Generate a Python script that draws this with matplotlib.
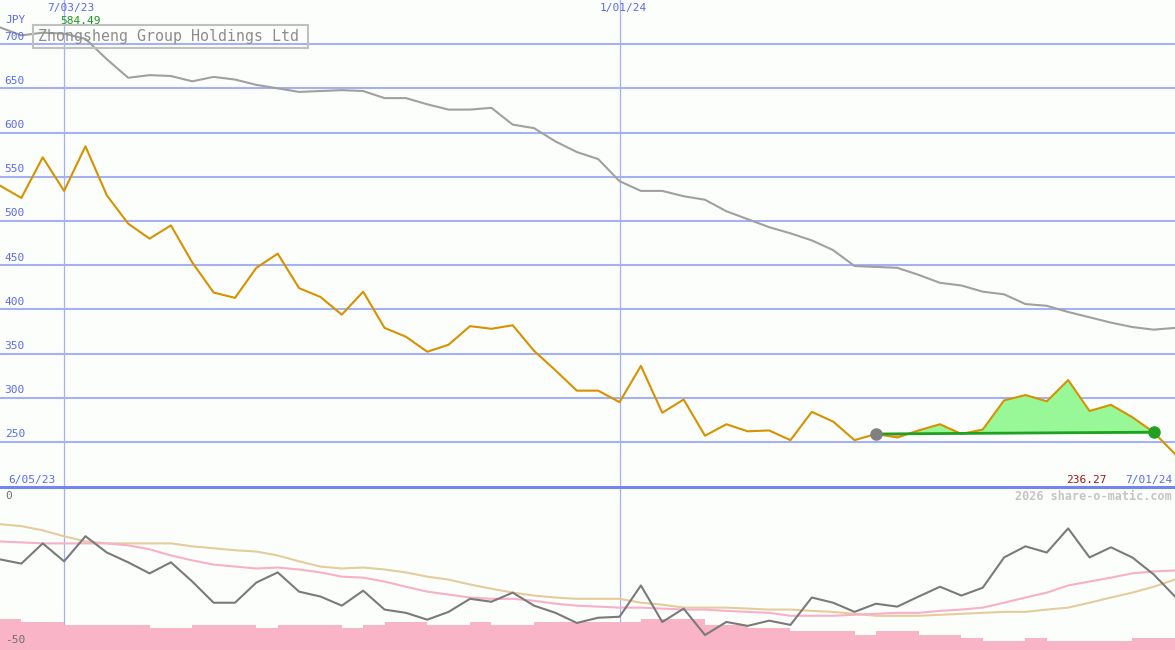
import matplotlib
matplotlib.use('Agg')
import matplotlib.pyplot as plt
from matplotlib.lines import Line2D
from matplotlib.patches import Rectangle
import numpy as np
import pandas as pd

# weekly closes, 12 Jun 2023 .. 1 Jul 2024
dates = pd.date_range('2023-06-12', periods=56, freq='W-MON')

price = [540, 526, 572, 534, 584.49, 529, 497, 480, 495, 453,
         419, 413, 447, 463, 424, 414, 394, 420, 379, 369,
         352, 360, 381, 378, 382, 353, 331, 308, 308, 295,
         336, 283, 298, 257, 270, 262, 263, 252, 284, 273,
         252, 259, 255, 263, 270, 259, 264, 297, 303, 296,
         320, 285, 292, 278, 261, 236.27]

moving_avg = [719, 710, 713, 712, 706, 683, 662, 665, 664, 658,
              663, 660, 654, 650, 646, 647, 648, 647, 639, 639,
              632, 626, 626, 628, 609, 605, 590, 578, 570, 545,
              534, 534, 528, 524, 511, 502, 493, 486, 478, 467,
              449, 448, 447, 439, 430, 427, 420, 417, 406, 404,
              397, 391, 385, 380, 377, 379]

# lower panel
rel_strength = [-22.2, -23.5, -17.3, -22.8, -15.1, -20.1, -23.1, -26.5, -23.1, -29.0,
                -35.5, -35.5, -29.3, -26.2, -32.1, -33.6, -36.4, -31.8, -37.6, -38.6,
                -40.7, -38.3, -34.3, -35.2, -32.4, -36.4, -38.6, -41.7, -40.1, -39.8,
                -30.2, -41.4, -37.3, -45.4, -41.4, -42.6, -41.0, -42.3, -33.9, -35.5,
                -38.3, -35.8, -36.7, -33.6, -30.6, -33.3, -30.9, -21.6, -18.2, -20.1,
                -12.7, -21.6, -18.5, -21.6, -26.8, -33.6]

rel_fast = [-16.7, -17.0, -17.3, -17.3, -17.3, -17.3, -17.9, -19.1, -21.0, -22.5,
            -23.8, -24.4, -25.0, -24.7, -25.3, -26.2, -27.5, -27.8, -29.0, -30.6,
            -32.1, -33.0, -33.9, -34.3, -34.3, -34.9, -35.8, -36.4, -36.7, -37.0,
            -37.0, -37.3, -37.6, -37.6, -38.0, -38.3, -38.6, -39.5, -39.5, -39.5,
            -39.2, -38.9, -38.6, -38.6, -38.0, -37.6, -37.0, -35.5, -33.9, -32.4,
            -30.2, -29.0, -27.8, -26.5, -25.9, -25.6]

rel_slow = [-11.4, -12.0, -13.3, -15.1, -16.7, -17.3, -17.3, -17.3, -17.3, -18.2,
            -18.8, -19.4, -19.8, -21.0, -22.8, -24.4, -25.0, -24.7, -25.3, -26.2,
            -27.5, -28.4, -29.9, -31.2, -32.4, -33.3, -33.9, -34.3, -34.3, -34.3,
            -35.5, -36.1, -37.0, -37.0, -37.0, -37.3, -37.6, -37.6, -38.0, -38.3,
            -38.9, -39.5, -39.5, -39.5, -39.2, -38.9, -38.6, -38.3, -38.3, -37.6,
            -37.0, -35.5, -33.9, -32.4, -30.6, -28.4]

bars = [-40.4, -41.4, -41.4, -42.3, -42.3, -42.3, -42.3, -43.2, -43.2, -42.3,
        -42.3, -42.3, -43.2, -42.3, -42.3, -42.3, -43.2, -42.3, -41.4, -41.4,
        -42.3, -42.3, -41.4, -42.3, -42.3, -41.4, -41.4, -41.4, -41.4, -41.4,
        -40.4, -40.4, -40.4, -42.3, -42.3, -43.2, -43.2, -44.1, -44.1, -44.1,
        -45.4, -44.1, -44.1, -45.4, -45.4, -46.3, -47.2, -47.2, -46.3, -47.2,
        -47.2, -47.2, -47.2, -46.3, -46.3]

price_ticks = [700, 650, 600, 550, 500, 450, 400, 350, 300, 250]
marked_dates = ['2023-07-03', '2024-01-01']
start_i, end_i = 41, 54

bg = '#fcfefc'
grid_c = '#a4b2f4'
blue_txt = '#5a6af0'
mono = 'DejaVu Sans Mono'

fig = plt.figure(figsize=(11.75, 6.5), dpi=100, facecolor=bg)
ax = fig.add_axes([0, 163 / 650, 1, 487 / 650], facecolor=bg)
ax2 = fig.add_axes([0, 0, 1, 163 / 650], facecolor=bg)

for a in (ax, ax2):
    for s in a.spines.values():
        s.set_visible(False)
    a.set_xticks([])
    a.set_yticks([])
    a.set_xlim(dates[0], dates[-1])

ax.set_ylim(199, 750)
ax2.set_ylim(-50, 0)

# upper panel
for v in price_ticks:
    ax.axhline(v, color=grid_c, lw=1.5, zorder=1)
    ax.text(0.004, v + 3, str(v), transform=ax.get_yaxis_transform(),
            fontsize=8, color=blue_txt, family=mono, va='bottom', ha='left')
for d in marked_dates:
    ax.axvline(pd.Timestamp(d), color=grid_c, lw=0.9, zorder=1)
    ax2.axvline(pd.Timestamp(d), color=grid_c, lw=0.9, zorder=1)

ax.plot(dates, moving_avg, color='#a0a0a0', lw=1.5, zorder=2)

seg_d = dates[start_i:end_i + 1]
seg_p = np.array(price[start_i:end_i + 1])
base = price[start_i]
ax.fill_between(seg_d, seg_p, base, where=seg_p >= base, interpolate=True,
                color='#98f898', lw=0, zorder=3)
ax.fill_between(seg_d, seg_p, base, where=seg_p < base, interpolate=True,
                color='#f4b0b0', lw=0, zorder=3)
ax.plot(dates, price, color='#d69200', lw=1.5, zorder=4)
ax.plot([dates[start_i], dates[end_i]], [price[start_i], price[end_i]],
        color='#22a022', lw=2, zorder=5)
ax.plot(dates[start_i], price[start_i], 'o', color='#808080', ms=8, zorder=6)
ax.plot(dates[end_i], price[end_i], 'o', color='#22a022', ms=8, zorder=6)

# lower panel
ax2.bar(dates[:-1], [b + 50 for b in bars], bottom=-50, width=7, align='edge',
        color='#f9b4c8', lw=0, zorder=2)
ax2.plot(dates, rel_slow, color='#e4cc9c', lw=1.5, zorder=3)
ax2.plot(dates, rel_fast, color='#f8b0c8', lw=1.5, zorder=3)
ax2.plot(dates, rel_strength, color='#7a7a7a', lw=1.5, zorder=4)

fig.add_artist(Line2D([0, 1], [163 / 650, 163 / 650], transform=fig.transFigure,
                      color='#7484f0', lw=2.2))


def px_text(x, y, s, color, size=8, ha='left', **kw):
    fig.text(x / 1175, 1 - y / 650, s, color=color, fontsize=size, family=mono,
             ha=ha, va='center', **kw)


px_text(5, 20, 'JPY', blue_txt)
px_text(47, 8, '7/03/23', blue_txt)
px_text(600, 8, '1/01/24', blue_txt)
px_text(60, 21, '584.49', '#189818')
px_text(8, 480, '6/05/23', blue_txt)
px_text(1066, 480, '236.27', '#a01818')
px_text(1172, 480, '7/01/24', blue_txt, ha='right')
px_text(1172, 496, '2026 share-o-matic.com', '#c4c4c4', size=8.5, ha='right',
        fontweight='bold')
px_text(5, 496, '0', '#707070')
px_text(5, 640, '-50', '#707070')

fig.add_artist(Rectangle((33 / 1175, 1 - 48 / 650), 275 / 1175, 23 / 650,
                         transform=fig.transFigure, facecolor='none',
                         edgecolor='#c0c0c0', lw=1.5, zorder=10))
px_text(38, 36.5, 'Zhongsheng Group Holdings Ltd', '#8c8c8c', size=10.8, zorder=11)

fig.savefig('out.png', dpi=100, facecolor=bg)
